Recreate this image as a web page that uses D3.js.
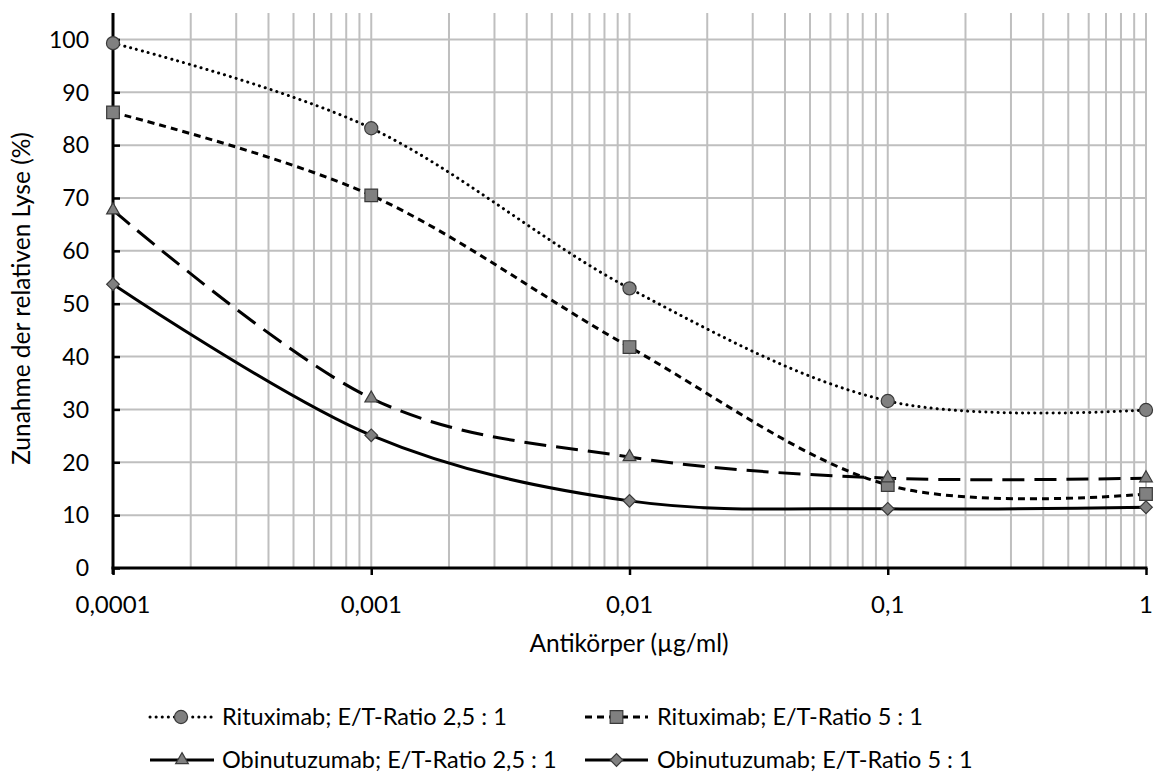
<!DOCTYPE html>
<html>
<head>
<meta charset="utf-8">
<script src="https://cdn.jsdelivr.net/npm/d3@7"></script>
<style>
  body { margin: 0; background: #fff; }
  svg text { font-family: Lato, "Open Sans", sans-serif; fill: #000; }
</style>
</head>
<body>
<svg id="chart" width="1158" height="778"></svg>
<script>
// Antibody concentrations (µg/ml)
const concentrations = [0.0001, 0.001, 0.01, 0.1, 1];

// Increase in relative lysis (%) per antibody and E/T ratio
const ritux25 = [99.3, 83.2, 52.9, 31.6, 29.9];
const ritux5  = [86.2, 70.5, 41.8, 15.7, 14.0];
const obinu25 = [67.7, 32.1, 21.0, 17.0, 17.0];
const obinu5  = [53.7, 25.1, 12.7, 11.2, 11.5];

const seriesNames = [
  "Rituximab; E/T-Ratio 2,5 : 1",
  "Rituximab; E/T-Ratio 5 : 1",
  "Obinutuzumab; E/T-Ratio 2,5 : 1",
  "Obinutuzumab; E/T-Ratio 5 : 1"
];

const xTickLabels = ["0,0001", "0,001", "0,01", "0,1", "1"];
const yTicks = [0, 10, 20, 30, 40, 50, 60, 70, 80, 90, 100];

const svg = d3.select("#chart");

const x = d3.scaleLog().domain([0.0001, 1]).range([113, 1146]);
const y = d3.scaleLinear().domain([0, 105]).range([568, 13]);

// Log grid: all 1..9 multiples of every decade
const gridX = [];
for (let e = -4; e < 0; e++) {
  for (let m = 1; m <= 9; m++) gridX.push(m * Math.pow(10, e));
}
gridX.push(1);

const grid = svg.append("g");
grid.selectAll("line.v").data(gridX.slice(1)).join("line")
  .attr("x1", d => x(d)).attr("x2", d => x(d))
  .attr("y1", y(105)).attr("y2", y(0))
  .attr("stroke", "#bfbfbf").attr("stroke-width", 2);
grid.selectAll("line.h").data(yTicks.slice(1)).join("line")
  .attr("x1", x(0.0001)).attr("x2", x(1))
  .attr("y1", d => y(d)).attr("y2", d => y(d))
  .attr("stroke", "#bfbfbf").attr("stroke-width", 2);

// Y axis (ticks pointing inward)
const yAxis = svg.append("g").attr("transform", `translate(${x(0.0001)},0)`)
  .call(d3.axisRight(y).tickValues(yTicks).tickSize(7).tickFormat(""));
yAxis.select(".domain").remove();
yAxis.selectAll(".tick line").attr("stroke", "#000").attr("stroke-width", 2.5);
svg.append("line")
  .attr("x1", x(0.0001)).attr("x2", x(0.0001))
  .attr("y1", y(105)).attr("y2", y(0) + 6)
  .attr("stroke", "#000").attr("stroke-width", 3);
svg.append("g").selectAll("text").data(yTicks).join("text")
  .attr("x", 89).attr("y", d => y(d)).attr("dy", "0.36em")
  .attr("text-anchor", "end").attr("font-size", 23).text(d => d);

// X axis (ticks pointing outward)
const xAxis = svg.append("g").attr("transform", `translate(0,${y(0)})`)
  .call(d3.axisBottom(x).tickValues(concentrations).tickSize(7).tickFormat(""));
xAxis.select(".domain").remove();
xAxis.selectAll(".tick line").attr("stroke", "#000").attr("stroke-width", 2.5);
svg.append("line")
  .attr("x1", x(0.0001) - 1.5).attr("x2", x(1) + 1.5)
  .attr("y1", y(0)).attr("y2", y(0))
  .attr("stroke", "#000").attr("stroke-width", 3);
svg.append("g").selectAll("text").data(concentrations).join("text")
  .attr("x", d => x(d)).attr("y", 613)
  .attr("text-anchor", "middle").attr("font-size", 24)
  .text((d, i) => xTickLabels[i]);

// Axis titles
svg.append("text").attr("x", 629).attr("y", 652)
  .attr("text-anchor", "middle").attr("font-size", 24.5)
  .text("Antikörper (µg/ml)");
svg.append("text")
  .attr("transform", `translate(30,${(y(0) + y(105)) / 2 + 8}) rotate(-90)`)
  .attr("text-anchor", "middle").attr("font-size", 24.5)
  .text("Zunahme der relativen Lyse (%)");

// Series styles
const seriesData = [ritux25, ritux5, obinu25, obinu5];
const dashes = ["0.1,6", "7,5", "22,10", null];
const caps = ["round", "butt", "butt", "butt"];
const widths = [3, 3, 3, 3];
const markers = [d3.symbolCircle, d3.symbolSquare, d3.symbolTriangle, d3.symbolSquare];
const markerSizes = [135, 160, 70, 80];
const markerRot = [0, 0, 0, 45];

const line = d3.line()
  .x(d => x(d[0])).y(d => y(d[1]))
  .curve(d3.curveCardinal.tension(0));

seriesData.forEach((vals, i) => {
  const pts = concentrations.map((c, j) => [c, vals[j]]);
  svg.append("path").datum(pts)
    .attr("d", line)
    .attr("fill", "none").attr("stroke", "#000")
    .attr("stroke-width", widths[i])
    .attr("stroke-linecap", caps[i])
    .attr("stroke-dasharray", dashes[i]);
});
seriesData.forEach((vals, i) => {
  const pts = concentrations.map((c, j) => [c, vals[j]]);
  svg.append("g").selectAll("path").data(pts).join("path")
    .attr("transform", d => `translate(${x(d[0])},${y(d[1])}) rotate(${markerRot[i]})`)
    .attr("d", d3.symbol().type(markers[i]).size(markerSizes[i]))
    .attr("fill", "#808080").attr("stroke", "#3a3a3a").attr("stroke-width", 1.2);
});

// Legend
const legendPos = [
  { lx: 150, ly: 717 }, { lx: 585, ly: 717 },
  { lx: 150, ly: 760 }, { lx: 585, ly: 760 }
];
const legendLen = [62, 63, 64, 63];
seriesNames.forEach((name, i) => {
  const p = legendPos[i];
  const g = svg.append("g").attr("transform", `translate(${p.lx},${p.ly})`);
  g.append("line").attr("x1", 0).attr("x2", legendLen[i]).attr("y1", 0).attr("y2", 0)
    .attr("stroke", "#000").attr("stroke-width", widths[i])
    .attr("stroke-linecap", caps[i])
    .attr("stroke-dasharray", i === 2 ? null : dashes[i]);
  g.append("path").attr("transform", `translate(${legendLen[i] / 2},0) rotate(${markerRot[i]})`)
    .attr("d", d3.symbol().type(markers[i]).size(markerSizes[i]))
    .attr("fill", "#808080").attr("stroke", "#3a3a3a").attr("stroke-width", 1.2);
  g.append("text").attr("x", 72).attr("y", 0).attr("dy", "0.36em")
    .attr("font-size", 23.5).text(name);
});
</script>
</body>
</html>
